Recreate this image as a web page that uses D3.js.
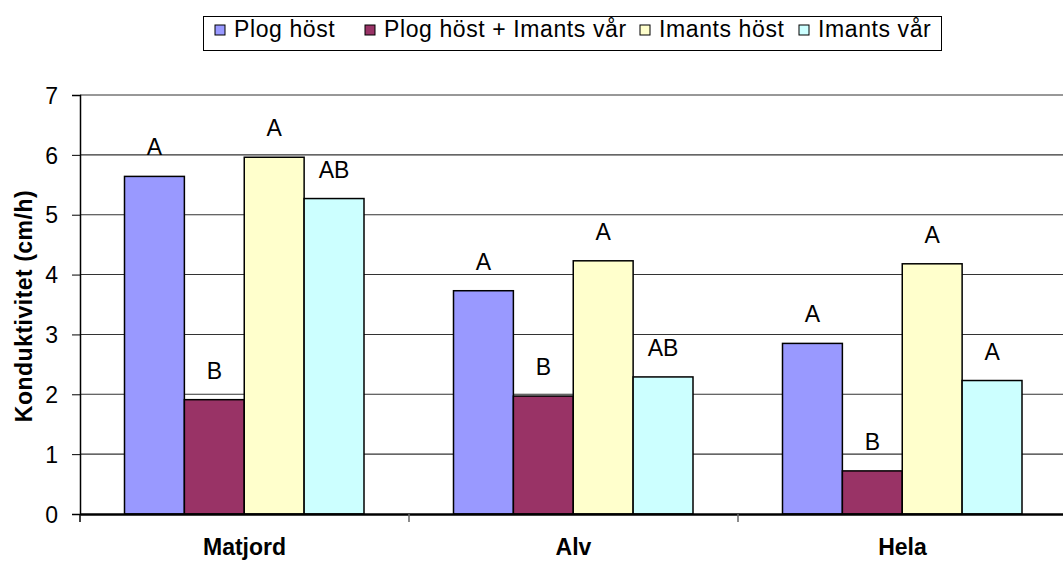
<!DOCTYPE html>
<html>
<head>
<meta charset="utf-8">
<script src="https://cdn.jsdelivr.net/npm/d3@7"></script>
<style>
  body { margin: 0; background: #fff; }
  text { font-family: "Liberation Sans", Arial, sans-serif; fill: #000; }
</style>
</head>
<body>
<svg id="svg" width="1063" height="561"></svg>
<script>
	// data
	var categories = ["Matjord", "Alv", "Hela"];
	var series = ["Plog höst", "Plog höst + Imants vår", "Imants höst", "Imants vår"];
	var colors = ["#9999FF", "#993366", "#FFFFCC", "#CCFFFF"];
	var plogHost      = [5.64, 3.73, 2.85];
	var plogImantsVar = [1.91, 1.97, 0.72];
	var imantsHost    = [5.96, 4.23, 4.18];
	var imantsVar     = [5.27, 2.29, 2.23];
	var letters = [
		["A", "A", "A"],
		["B", "B", "B"],
		["A", "A", "A"],
		["AB", "AB", "A"]
	];
	var yTicks = [0, 1, 2, 3, 4, 5, 6, 7];

	var values = [plogHost, plogImantsVar, imantsHost, imantsVar];

	var svg = d3.select("#svg");

	var plot = {left: 80, right: 1067, top: 95, bottom: 514};
	var groupPad = 44.5;

	var x0 = d3.scaleBand().domain(categories).range([plot.left, plot.right]);
	var x1 = d3.scaleBand().domain(series).range([groupPad, x0.bandwidth() - groupPad - 0.5]);
	var y = d3.scaleLinear().domain([0, 7]).range([plot.bottom, plot.top]);

	// gridlines
	svg.append('g').selectAll('line')
		.data(yTicks.filter(d => d > 0))
		.enter().append('line')
		.attr('x1', plot.left)
		.attr('x2', plot.right)
		.attr('y1', d => y(d))
		.attr('y2', d => y(d))
		.style('stroke', '#333')
		.style('stroke-width', 1.1);

	// y axis
	var yAxis = d3.axisLeft(y).tickValues(yTicks).tickFormat(d3.format('d')).tickSize(8).tickPadding(14);
	var gy = svg.append('g')
		.attr('transform', 'translate(' + plot.left + ',0)')
		.call(yAxis);
	gy.select('.domain').style('stroke', '#000').style('stroke-width', 1.5);
	gy.selectAll('.tick line').style('stroke', '#000');
	gy.selectAll('.tick text')
		.style('font-size', '23px')
		.attr('dy', '0.36em');

	svg.append('text')
		.attr('transform', 'translate(32,306) rotate(-90)')
		.attr('text-anchor', 'middle')
		.style('font-size', '23px')
		.style('font-weight', 'bold')
		.style('letter-spacing', '0.5px')
		.text('Konduktivitet (cm/h)');

	// bars
	var groups = svg.append('g').selectAll('g')
		.data(categories)
		.enter().append('g')
		.attr('transform', d => 'translate(' + x0(d) + ',0)');

	var barData = (c, ci) => series.map((s, si) => ({s: s, si: si, v: values[si][ci], l: letters[si][ci]}));

	groups.selectAll('rect')
		.data(barData)
		.enter().append('rect')
		.attr('x', d => x1(d.s))
		.attr('y', d => y(d.v))
		.attr('width', x1.bandwidth())
		.attr('height', d => y(0) - y(d.v))
		.style('fill', d => colors[d.si])
		.style('stroke', '#000')
		.style('stroke-width', 1.5);

	groups.selectAll('.lbl')
		.data(barData)
		.enter().append('text')
		.classed('lbl', true)
		.attr('x', d => x1(d.s) + x1.bandwidth() / 2)
		.attr('y', d => y(d.v) - 21)
		.attr('text-anchor', 'middle')
		.style('font-size', '23px')
		.text(d => d.l);

	// x axis
	var xAxis = d3.axisBottom(x0).tickSize(0).tickPadding(25);
	var gx = svg.append('g')
		.attr('transform', 'translate(0,' + plot.bottom + ')')
		.call(xAxis);
	gx.select('.domain').style('stroke', '#000').style('stroke-width', 2.5);
	gx.selectAll('.tick text')
		.style('font-size', '23px')
		.style('font-weight', 'bold');

	// category separator ticks
	svg.append('g').selectAll('line')
		.data(categories.slice(1))
		.enter().append('line')
		.attr('x1', d => x0(d))
		.attr('x2', d => x0(d))
		.attr('y1', plot.bottom)
		.attr('y2', plot.bottom + 8)
		.style('stroke', '#666')
		.style('stroke-width', 1.5);
	svg.append('line')
		.attr('x1', plot.left).attr('x2', plot.left)
		.attr('y1', plot.bottom).attr('y2', plot.bottom + 8)
		.style('stroke', '#000').style('stroke-width', 1.5);

	// legend
	var legend = svg.append('g');
	legend.append('rect')
		.attr('x', 203.5)
		.attr('y', 16.5)
		.attr('width', 738)
		.attr('height', 34)
		.style('fill', '#fff')
		.style('stroke', '#000')
		.style('stroke-width', 1);

	var legendX = [215, 365, 640, 799];
	series.forEach(function(s, i) {
		legend.append('rect')
			.attr('x', legendX[i])
			.attr('y', 25)
			.attr('width', 10)
			.attr('height', 10)
			.style('fill', colors[i])
			.style('stroke', '#000')
			.style('stroke-width', 1);
		legend.append('text')
			.attr('x', legendX[i] + 19)
			.attr('y', 37)
			.style('font-size', '23px')
			.style('letter-spacing', '0.6px')
			.text(s);
	});
</script>
</body>
</html>
